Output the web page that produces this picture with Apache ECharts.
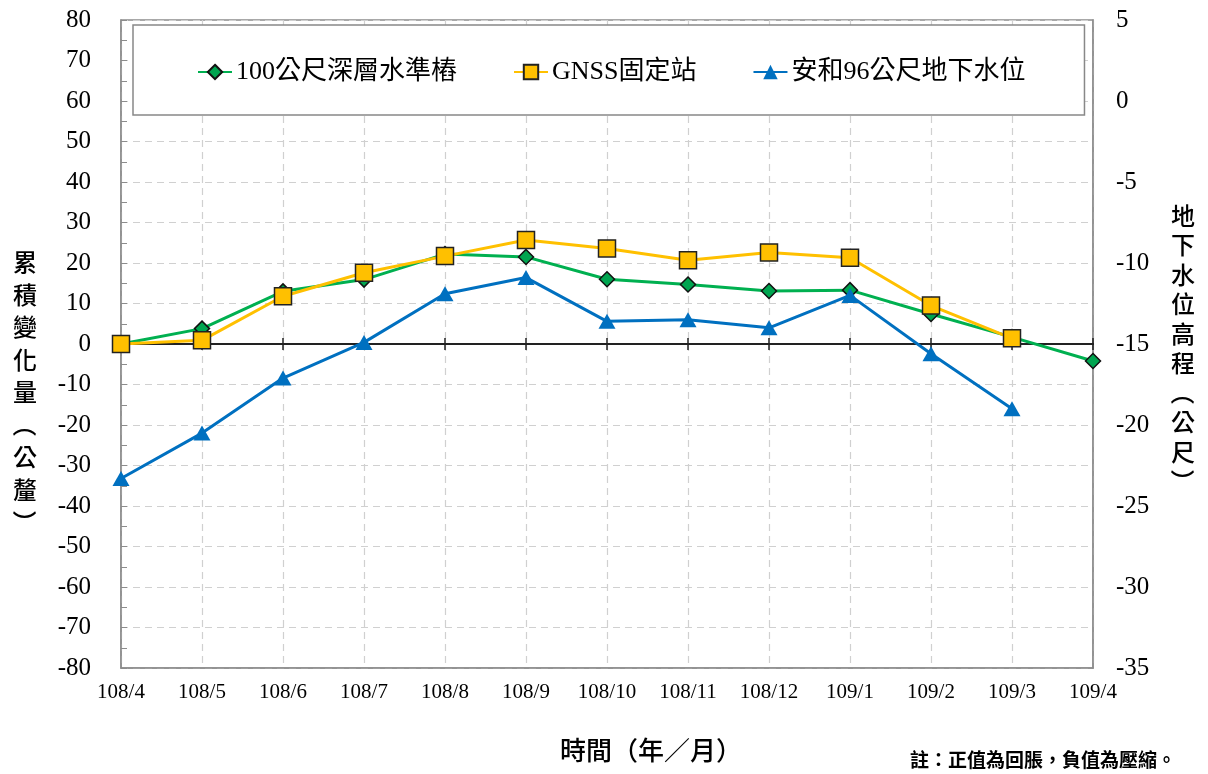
<!DOCTYPE html>
<html><head><meta charset="utf-8">
<script src="https://cdn.jsdelivr.net/npm/echarts@6/dist/echarts.min.js"></script>
<style>html,body{margin:0;padding:0;background:#fff}#c{width:1208px;height:774px}</style>
</head><body><div id="c"></div>
<script>
const categories = ['108/4','108/5','108/6','108/7','108/8','108/9','108/10','108/11','108/12','109/1','109/2','109/3','109/4'];
const benchmark100 = [0, 3.8, 13, 15.9, 22.2, 21.5, 16, 14.7, 13.1, 13.3, 7.4, 1.7, -4.2];
const gnss = [0, 0.9, 11.8, 17.6, 21.7, 25.7, 23.6, 20.7, 22.6, 21.3, 9.5, 1.4, null];
const groundwater96 = [-23.3, -20.5, -17.1, -14.9, -11.9, -10.9, -13.6, -13.5, -14.0, -12.0, -15.6, -19.0, null];
const leftTicks = {min: -80, max: 80, interval: 10};
const rightTicks = {min: -35, max: 5, interval: 5};
const leftTitle = ['累','積','變','化','量','（','公','釐','）'];
const rightTitle = ['地','下','水','位','高','程','（','公','尺','）'];

const serif = "'Liberation Serif', 'Noto Sans CJK TC', serif";
const gridColor = '#8c8c8c';
const dash = {color: '#d0d0d0', type: [7, 5], width: 1.2};

function verticalTitle(chars, cx, top, lh, size) {
  return chars.map((ch, i) => {
    const paren = ch === '（' || ch === '）';
    return {
      type: 'text', x: cx, y: top + i * lh + lh / 2,
      rotation: paren ? -Math.PI / 2 : 0,
      style: {text: ch, font: `500 ${size}px 'Noto Sans CJK TC'`, fill: '#000',
              align: 'center', verticalAlign: 'middle'}
    };
  });
}

const chart = echarts.init(document.getElementById('c'), null, {renderer: 'canvas'});
chart.setOption({
  animation: false,
  backgroundColor: '#fff',
  grid: {left: 121, right: 115, top: 20, bottom: 106, containLabel: false,
         show: true, borderColor: gridColor, borderWidth: 1.5},
  legend: {
    left: 133, top: 25,
    padding: [34, 59, 30, 64],
    itemGap: 56, itemWidth: 34, itemHeight: 18,
    backgroundColor: '#fff', borderColor: '#888', borderWidth: 1.5,
    textStyle: {fontFamily: serif, fontSize: 26, color: '#000', padding: [0, 0, 0, -1]},
    data: ['100公尺深層水準樁', 'GNSS固定站', '安和96公尺地下水位']
  },
  xAxis: [
    {type: 'category', data: categories, boundaryGap: false, position: 'bottom',
     axisLine: {onZero: false, lineStyle: {color: gridColor, width: 1.5}},
     axisTick: {show: false},
     axisLabel: {fontFamily: serif, fontSize: 21, color: '#000', margin: 14},
     splitLine: {show: true, lineStyle: dash}},
    {type: 'category', data: categories, boundaryGap: false,
     axisLine: {onZero: true, onZeroAxisIndex: 0, lineStyle: {color: '#222', width: 2}},
     axisTick: {show: true, inside: false, length: 6, lineStyle: {color: '#222', width: 1.5}},
     axisLabel: {show: false}, splitLine: {show: false}},
    {type: 'category', data: categories, boundaryGap: false,
     axisLine: {onZero: true, onZeroAxisIndex: 0, lineStyle: {color: '#222', width: 2}},
     axisTick: {show: true, inside: true, length: 6, lineStyle: {color: '#222', width: 1.5}},
     axisLabel: {show: false}, splitLine: {show: false}}
  ],
  yAxis: [
    {type: 'value', min: leftTicks.min, max: leftTicks.max, interval: leftTicks.interval, position: 'left',
     axisLine: {show: true, onZero: false, lineStyle: {color: gridColor, width: 1.5}},
     axisTick: {show: true, inside: true, length: 6, lineStyle: {color: gridColor}},
     minorTick: {show: true, splitNumber: 2, length: 6, lineStyle: {color: gridColor}},
     axisLabel: {fontFamily: serif, fontSize: 25, color: '#000', margin: 30},
     splitLine: {show: true, lineStyle: dash}},
    {type: 'value', min: rightTicks.min, max: rightTicks.max, interval: rightTicks.interval, position: 'right',
     axisLine: {show: true, onZero: false, lineStyle: {color: gridColor, width: 1.5}},
     axisTick: {show: false},
     axisLabel: {fontFamily: serif, fontSize: 25, color: '#000', margin: 23},
     splitLine: {show: false}}
  ],
  series: [
    {name: '100公尺深層水準樁', type: 'line', data: benchmark100, xAxisIndex: 0, yAxisIndex: 0,
     symbol: 'diamond', symbolSize: 15, z: 3,
     lineStyle: {color: '#00B050', width: 3},
     itemStyle: {color: '#00A550', borderColor: '#111', borderWidth: 1.5}},
    {name: 'GNSS固定站', type: 'line', data: gnss, xAxisIndex: 0, yAxisIndex: 0,
     symbol: 'rect', symbolSize: 17, z: 4,
     lineStyle: {color: '#FFC000', width: 3},
     itemStyle: {color: '#FFC000', borderColor: '#222', borderWidth: 1.5}},
    {name: '安和96公尺地下水位', type: 'line', data: groundwater96, xAxisIndex: 0, yAxisIndex: 1,
     symbol: 'triangle', symbolSize: [17, 15], z: 5,
     lineStyle: {color: '#0070C0', width: 3},
     itemStyle: {color: '#0070C0', borderWidth: 0}}
  ],
  graphic: [
    ...verticalTitle(leftTitle, 25, 246, 32.5, 24),
    ...verticalTitle(rightTitle, 1183, 201, 29.5, 24),
    {type: 'text', left: 560, top: 737, style: {text: '時間（年／月）', font: "500 26px 'Noto Sans CJK TC'", fill: '#000'}},
    {type: 'text', left: 910, top: 750, style: {text: '註：正值為回脹，負值為壓縮。', font: "bold 19px 'Noto Sans CJK TC'", fill: '#000'}}
  ]
});
</script></body></html>
